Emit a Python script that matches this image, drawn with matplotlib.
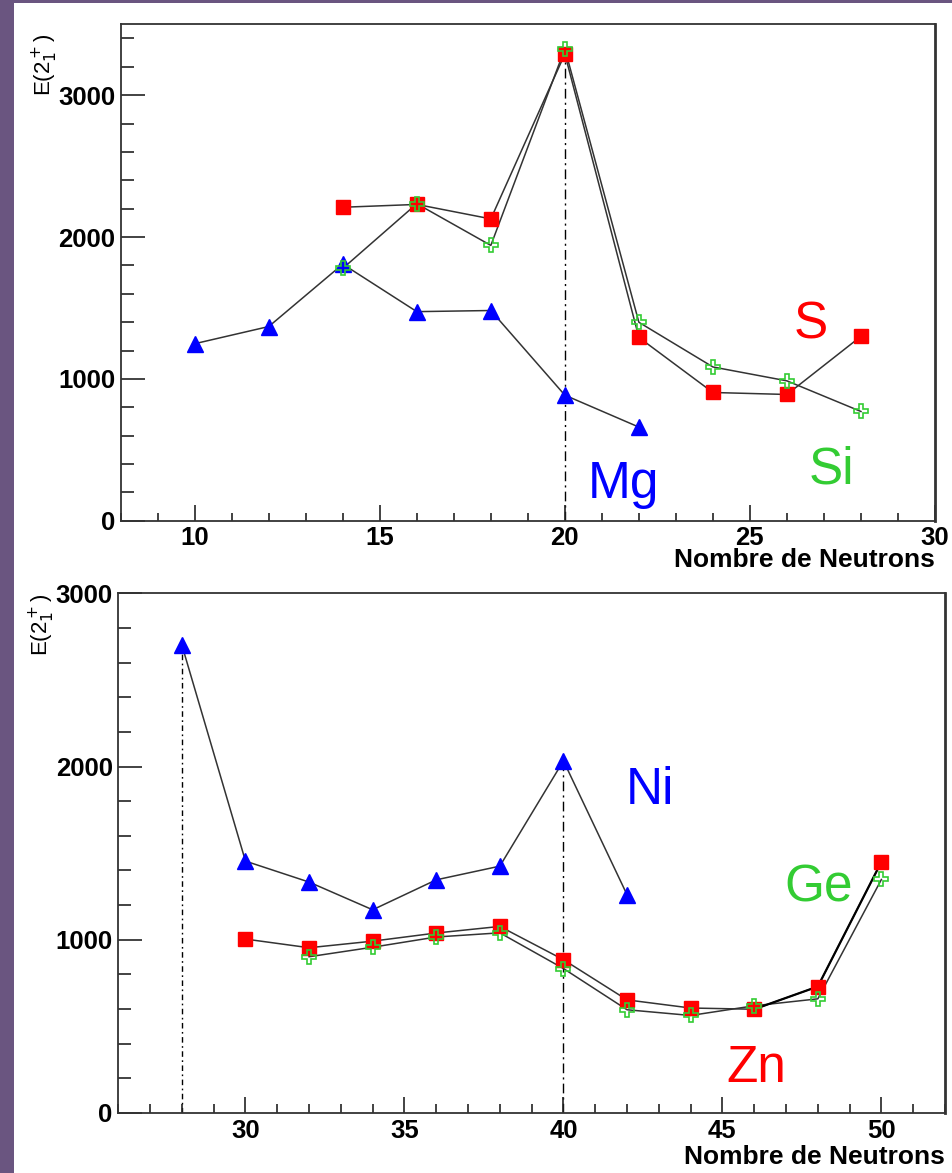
import matplotlib
matplotlib.use("Agg")
import matplotlib.pyplot as plt
from matplotlib.patches import Rectangle
from matplotlib.ticker import MultipleLocator

plt.rcParams['font.family'] = ['Liberation Sans', 'DejaVu Sans']

# upper panel: sd shell (N = 10..28)
mg_n = [10, 12, 14, 16, 18, 20, 22]
mg_e = [1248, 1369, 1809, 1474, 1482, 885, 660]
s_n = [14, 16, 18, 20, 22, 24, 26, 28]
s_e = [2210, 2230, 2128, 3291, 1292, 904, 890, 1300]
si_n = [14, 16, 18, 20, 22, 24, 26, 28]
si_e = [1779, 2235, 1941, 3328, 1399, 1084, 986, 770]

# lower panel: fp shell (N = 28..50)
ni_n = [28, 30, 32, 34, 36, 38, 40, 42]
ni_e = [2701, 1454, 1333, 1173, 1346, 1425, 2033, 1260]
zn_n = [30, 32, 34, 36, 38, 40, 42, 44, 46, 48, 50]
zn_e = [1004, 954, 992, 1039, 1077, 885, 653, 606, 599, 730, 1450]
ge_n = [32, 34, 36, 38, 40, 42, 44, 46, 48, 50]
ge_e = [902, 957, 1016, 1040, 834, 596, 563, 619, 659, 1348]

BLUE = '#0000ff'
RED = '#ff0000'
GREEN = '#33cc33'
LINE = '#333333'

fig = plt.figure(figsize=(9.52, 11.73), dpi=100)
fig.patch.set_facecolor('#6a5580')
fig.add_artist(Rectangle((14 / 952, 0), 1, 1 - 3 / 1173, transform=fig.transFigure,
                         facecolor='white', edgecolor='none', zorder=0))


def style_axes(ax, xmin, xmax, ymax, xmaj_len, xmin_len, xlab_y):
    ax.set_xlim(xmin, xmax)
    ax.set_ylim(0, ymax)
    ax.xaxis.set_major_locator(MultipleLocator(5))
    ax.xaxis.set_minor_locator(MultipleLocator(1))
    ax.yaxis.set_major_locator(MultipleLocator(1000))
    ax.yaxis.set_minor_locator(MultipleLocator(200))
    ax.tick_params(direction='in', top=False, right=False, which='both',
                   width=1.2, color='#222222', labelsize=18.5, pad=4)
    ax.tick_params(axis='y', which='major', length=17.5)
    ax.tick_params(axis='y', which='minor', length=9)
    ax.tick_params(axis='x', which='major', length=xmaj_len)
    ax.tick_params(axis='x', which='minor', length=xmin_len)
    for lab in ax.get_xticklabels() + ax.get_yticklabels():
        lab.set_fontweight('bold')
    for sp in ax.spines.values():
        sp.set_linewidth(1.3)
        sp.set_color('#333333')
    ax.spines['right'].set_linewidth(2)
    ax.set_xlabel("Nombre de Neutrons", fontsize=19, fontweight='bold')
    ax.xaxis.set_label_coords(1.0, xlab_y)
    ax.xaxis.label.set_horizontalalignment('right')
    ax.xaxis.label.set_verticalalignment('center')


def series(ax, n, e, marker, color, filled, ms):
    ax.plot(n, e, color=LINE, lw=1.1, zorder=2)
    if filled:
        ax.plot(n, e, ls='none', marker=marker, ms=ms, mfc=color, mec=color, zorder=3)
    else:
        ax.plot(n, e, ls='none', marker=marker, ms=ms, mfc='none', mec=color,
                mew=1.2, zorder=4)


dashdot = (0, (7, 3, 1.5, 3))

# ---- top
ax1 = fig.add_axes([120.7 / 952, 1 - 520.7 / 1173, 814.3 / 952, 496.4 / 1173])
ax1.vlines(20, 0, s_e[s_n.index(20)], color='black', lw=1, linestyles=[dashdot], zorder=1)
series(ax1, mg_n, mg_e, '^', BLUE, True, 11)
series(ax1, s_n, s_e, 's', RED, True, 9.5)
series(ax1, si_n, si_e, 'P', GREEN, False, 10)
style_axes(ax1, 8, 30, 3500, 11.3, 6, -0.08)
ax1.set_ylabel(r"E(2$_1^+$)", fontsize=16, rotation=90, ha='right')
ax1.yaxis.set_label_coords(-0.075, 0.982)
ax1.text(26.17, 1283, "S", color=RED, fontsize=37, va='baseline')
ax1.text(20.62, 158, "Mg", color=BLUE, fontsize=37, va='baseline')
ax1.text(26.6, 264, "Si", color=GREEN, fontsize=37, va='baseline')

# ---- bottom
ax2 = fig.add_axes([118.3 / 952, 1 - 1113 / 1173, 826.7 / 952, 519.7 / 1173])
ax2.vlines(28, 0, ni_e[0], color='black', lw=1, linestyles=[(0, (4, 2.5, 1.2, 2.5))], zorder=1)
ax2.vlines(40, 0, ni_e[ni_n.index(40)], color='black', lw=1, linestyles=[dashdot], zorder=1)
series(ax2, ni_n, ni_e, '^', BLUE, True, 11)
series(ax2, zn_n, zn_e, 's', RED, True, 9.5)
ax2.plot(zn_n[-3:], zn_e[-3:], color='black', lw=1.6, zorder=2.5)
series(ax2, ge_n, ge_e, 'P', GREEN, False, 10)
style_axes(ax2, 26, 52, 3000, 11.5, 6.5, -0.084)
ax2.set_ylabel(r"E(2$_1^+$)", fontsize=16, rotation=90, ha='right')
ax2.yaxis.set_label_coords(-0.074, 1.0)
ax2.text(41.95, 1781, "Ni", color=BLUE, fontsize=37, va='baseline')
ax2.text(46.94, 1219, "Ge", color=GREEN, fontsize=37, va='baseline')
ax2.text(45.12, 181, "Zn", color=RED, fontsize=37, va='baseline')

fig.savefig("out.png", dpi=100, facecolor=fig.get_facecolor())
